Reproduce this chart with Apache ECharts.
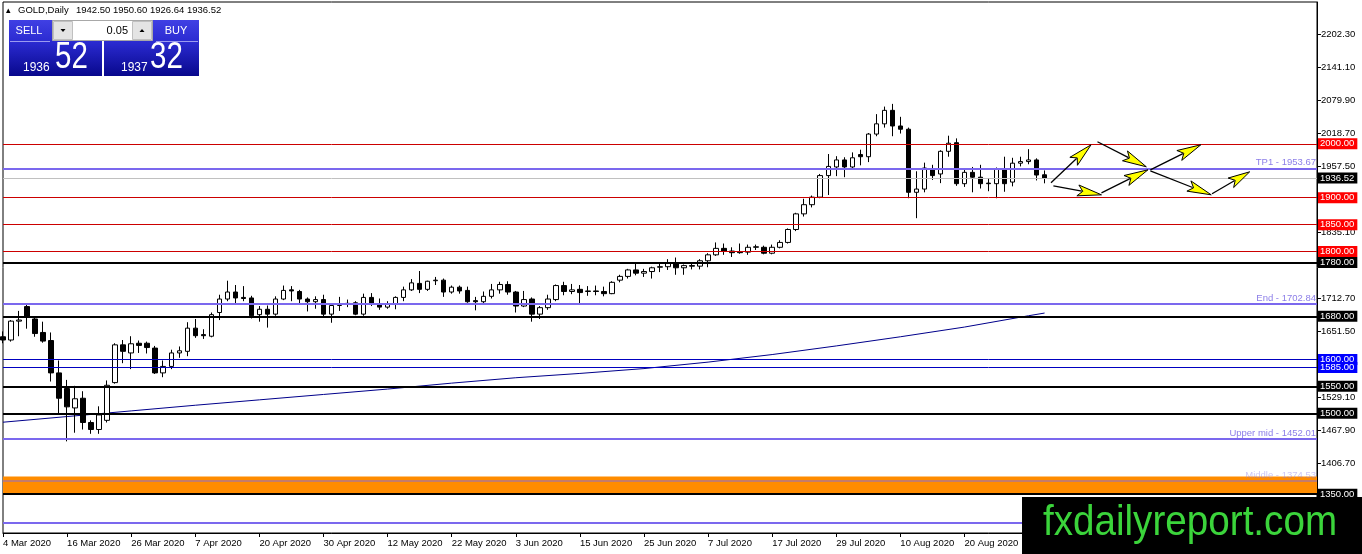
<!DOCTYPE html>
<html>
<head>
<meta charset="utf-8">
<title>GOLD, Daily</title>
<script src="https://cdn.jsdelivr.net/npm/echarts@6/dist/echarts.min.js"></script>
<style>
    html, body { margin: 0; padding: 0; background: #fff; }
    #chart { width: 1362px; height: 554px; }
</style>
</head>
<body>
<div id="chart"></div>
<script>
const opens = [
    1642, 1636, 1671, 1698, 1675, 1650, 1635, 1575, 1546, 1510, 1528, 1483, 1470, 1487, 1557, 1627, 1612, 1630, 1630, 1621,
    1575, 1587, 1612, 1615, 1658, 1646, 1643, 1687, 1712, 1725, 1715, 1714, 1683, 1693, 1684, 1712, 1729, 1726, 1712, 1707,
    1711, 1684, 1700, 1702, 1705, 1684, 1715, 1703, 1697, 1702, 1715, 1729, 1741, 1730, 1746, 1747, 1725, 1734, 1728, 1709,
    1707, 1717, 1729, 1739, 1725, 1699, 1712, 1684, 1696, 1711, 1737, 1726, 1730, 1726, 1727, 1726, 1722, 1747, 1754, 1766,
    1760, 1763, 1771, 1772, 1779, 1770, 1774, 1773, 1783, 1794, 1806, 1801, 1800, 1799, 1808, 1808, 1797, 1808, 1817, 1841,
    1870, 1887, 1901, 1941, 1957, 1970, 1957, 1980, 1976, 2018, 2037, 2062, 2033, 2027, 1910, 1916, 1954, 1944, 1986, 2002,
    1926, 1947, 1938, 1927, 1926, 1954, 1929, 1964, 1967, 1970, 1942.50
];
const highs = [
    1652, 1673, 1690, 1703, 1678, 1670, 1650, 1598, 1562, 1551, 1541, 1487, 1513, 1561, 1630, 1636, 1643, 1635, 1633, 1625,
    1598, 1618, 1624, 1669, 1675, 1656, 1687, 1720, 1746, 1738, 1736, 1718, 1699, 1700, 1717, 1737, 1736, 1729, 1715, 1717,
    1720, 1703, 1716, 1711, 1708, 1722, 1723, 1713, 1708, 1717, 1735, 1749, 1764, 1746, 1753, 1750, 1737, 1737, 1735, 1716,
    1726, 1740, 1744, 1745, 1727, 1727, 1715, 1699, 1720, 1739, 1744, 1740, 1738, 1736, 1737, 1735, 1745, 1757, 1768, 1778,
    1768, 1772, 1777, 1786, 1789, 1776, 1777, 1786, 1797, 1817, 1815, 1808, 1815, 1813, 1813, 1811, 1813, 1821, 1843, 1872,
    1898, 1904, 1944, 1981, 1977, 1975, 1984, 1989, 2020, 2055, 2069, 2074, 2050, 2030, 1949, 1965, 1961, 1988, 2015, 2010,
    1952, 1957, 1961, 1936, 1956, 1976, 1974, 1976, 1990, 1973, 1950.60
];
const lows = [
    1630, 1633, 1643, 1657, 1642, 1631, 1559, 1500, 1448, 1464, 1470, 1462, 1462, 1483, 1555, 1593, 1582, 1612, 1611, 1573,
    1567, 1582, 1603, 1606, 1640, 1638, 1641, 1673, 1708, 1703, 1708, 1676, 1670, 1659, 1681, 1710, 1708, 1702, 1689, 1694,
    1680, 1668, 1690, 1697, 1682, 1681, 1699, 1692, 1694, 1693, 1708, 1727, 1723, 1727, 1738, 1716, 1722, 1722, 1705, 1691,
    1701, 1713, 1722, 1720, 1687, 1697, 1670, 1675, 1692, 1708, 1719, 1721, 1704, 1718, 1719, 1717, 1721, 1743, 1750, 1756,
    1753, 1750, 1762, 1766, 1757, 1757, 1767, 1767, 1771, 1792, 1794, 1790, 1796, 1794, 1803, 1795, 1795, 1806, 1815, 1838,
    1865, 1882, 1899, 1905, 1940, 1938, 1955, 1960, 1966, 2014, 2030, 2014, 2019, 1899, 1862, 1910, 1933, 1927, 1976, 1922,
    1920, 1910, 1917, 1912, 1899, 1911, 1921, 1958, 1962, 1932, 1926.64
];
const closes = [
    1636, 1671, 1673, 1680, 1648, 1634, 1575, 1528, 1512, 1527, 1483, 1470, 1497, 1552, 1627, 1615, 1629, 1626, 1622, 1575,
    1587, 1612, 1616, 1658, 1644, 1644, 1683, 1712, 1725, 1714, 1713, 1681, 1693, 1684, 1712, 1728, 1727, 1712, 1707, 1711,
    1684, 1700, 1702, 1704, 1684, 1715, 1704, 1697, 1702, 1715, 1729, 1742, 1730, 1745, 1747, 1725, 1734, 1727, 1707, 1707,
    1717, 1729, 1739, 1725, 1699, 1711, 1684, 1696, 1712, 1737, 1726, 1729, 1724, 1727, 1726, 1722, 1743, 1754, 1766, 1760,
    1763, 1770, 1772, 1779, 1770, 1774, 1773, 1783, 1794, 1806, 1801, 1798, 1798, 1808, 1809, 1797, 1808, 1817, 1841, 1870,
    1887, 1901, 1941, 1958, 1970, 1957, 1974, 1976, 2018, 2037, 2062, 2033, 2027, 1910, 1916, 1955, 1941, 1986, 2001, 1926,
    1947, 1938, 1926, 1926, 1954, 1926, 1964, 1967, 1970, 1942, 1936.52
];

// Moyenne mobile (lue aux dates des graduations)
const maIndex = [0, 8, 16, 24, 32, 40, 48, 56, 64, 72, 80, 88, 96, 104, 112, 120, 128, 130];
const maValues = [1483.5, 1494, 1504.5, 1515, 1525, 1535, 1545, 1556, 1566, 1574, 1583, 1595, 1609, 1625, 1642, 1660, 1681, 1686];

// Niveaux horizontaux
const redLevels = [2000, 1900, 1850, 1800];
const blackLevels = [1780, 1680, 1550, 1500, 1350];
const blueLevels = [1600, 1585];
const fiboNames = ['TP1', 'End', 'Upper mid', 'Middle', 'Lower mid'];
const fiboValues = [1953.67, 1702.84, 1452.01, 1374.53, 1297.05];
const orangeZone = [1350, 1383];

// Flèches de scénario : [barre départ, prix départ, barre arrivée, prix arrivée]
const arrows = [
    [130.8, 1927.6, 135.8, 1998.1],
    [136.6, 2003.7, 142.7, 1957.3],
    [131.1, 1922.0, 137.1, 1905.3],
    [137.1, 1909.0, 142.9, 1951.7],
    [143.2, 1951.7, 149.5, 1998.1],
    [143.2, 1949.9, 150.8, 1905.3],
    [150.9, 1907.2, 155.6, 1948.0]
];

// Graduations
const yTicks = [1345.5, 1406.7, 1467.9, 1529.1, 1590.3, 1651.5, 1712.7, 1773.9, 1835.1, 1896.3,
    1957.5, 2018.7, 2079.9, 2141.1, 2202.3];
const dateTicks = ['4 Mar 2020', '16 Mar 2020', '26 Mar 2020', '7 Apr 2020', '20 Apr 2020', '30 Apr 2020',
    '12 May 2020', '22 May 2020', '3 Jun 2020', '15 Jun 2020', '25 Jun 2020', '7 Jul 2020',
    '17 Jul 2020', '29 Jul 2020', '10 Aug 2020', '20 Aug 2020'];

// Jours de cotation (sans week-ends ni Vendredi saint), avec l'espace vide à droite
const holidays = ['2020-04-10'];
const months = ['Jan', 'Feb', 'Mar', 'Apr', 'May', 'Jun', 'Jul', 'Aug', 'Sep', 'Oct', 'Nov', 'Dec'];
const barCount = 165;
const categories = [];
for (let d = new Date(Date.UTC(2020, 2, 4)); categories.length < barCount; d.setUTCDate(d.getUTCDate() + 1))
{
    const day = d.getUTCDay();
    if (day === 0 || day === 6) continue;
    if (holidays.includes(d.toISOString().slice(0, 10))) continue;
    categories.push(d.getUTCDate() + ' ' + months[d.getUTCMonth()] + ' ' + d.getUTCFullYear());
}

const FONT = '"Liberation Sans", Arial, sans-serif';
const last = closes.length - 1;

const candles = opens.map((o, i) => [o, closes[i], lows[i], highs[i]]);

function boxLine(value, lineColor, width, boxColor)
{
    return {
        yAxis: value,
        lineStyle: { color: lineColor, width: width, type: 'solid' },
        label: {
            show: true, position: 'end', distance: 1,
            formatter: value.toFixed(2),
            color: '#fff', backgroundColor: boxColor,
            padding: [1, 3, 0, 2], fontSize: 9.5, fontFamily: FONT
        }
    };
}

function fiboLine(name, value)
{
    const inZone = value > orangeZone[0] && value < orangeZone[1];
    return {
        yAxis: value,
        lineStyle: { color: '#7b68ee', width: 2, type: 'solid', opacity: inZone ? 0.45 : 1 },
        label: {
            show: true, position: 'insideEndTop', distance: 1,
            formatter: name + ' - ' + value.toFixed(2),
            color: '#8c7ee8', fontSize: 9.5, fontFamily: FONT
        }
    };
}

const levelLines = [];
redLevels.forEach(v => levelLines.push(boxLine(v, '#cc0000', 1, '#ff0000')));
blueLevels.forEach(v => levelLines.push(boxLine(v, '#0000c0', 1, '#0000ff')));
blackLevels.forEach(v => levelLines.push(boxLine(v, '#000000', 2, '#000000')));
fiboNames.forEach((n, i) => levelLines.push(fiboLine(n, fiboValues[i])));
levelLines.push(boxLine(closes[last], '#c0c0c0', 1, '#000000'));

function renderArrow(params, api)
{
    const p1 = api.coord([api.value(0), api.value(1)]);
    const p2 = api.coord([api.value(2), api.value(3)]);
    const dx = p2[0] - p1[0];
    const dy = p2[1] - p1[1];
    const len = Math.sqrt(dx * dx + dy * dy);
    const ux = dx / len;
    const uy = dy / len;
    const headLen = Math.min(24, len * 0.5);
    const half = 5.5;
    const bx = p2[0] - ux * headLen;
    const by = p2[1] - uy * headLen;
    return {
        type: 'group',
        children: [
            {
                type: 'line',
                shape: { x1: p1[0], y1: p1[1], x2: bx + ux * 4, y2: by + uy * 4 },
                style: { stroke: '#000', lineWidth: 1.3 }
            },
            {
                type: 'polygon',
                shape: {
                    points: [
                        [p2[0], p2[1]],
                        [bx - uy * half, by + ux * half],
                        [bx + ux * 5, by + uy * 5],
                        [bx + uy * half, by - ux * half]
                    ]
                },
                style: { fill: '#ffff00', stroke: '#000', lineWidth: 1 }
            }
        ]
    };
}

const panelGradient = () => new echarts.graphic.LinearGradient(0, 0, 0, 1, [
    { offset: 0, color: '#4040e4' },
    { offset: 0.4, color: '#2a2ad0' },
    { offset: 1, color: '#08088c' }
]);

function txt(x, y, text, size, color, align, extra)
{
    return Object.assign({
        type: 'text', x: x, y: y, z: 100,
        style: {
            text: text, fontSize: size, fontFamily: FONT, fill: color,
            align: align, textAlign: align, verticalAlign: 'middle', textVerticalAlign: 'middle'
        }
    }, extra || {});
}

const header = opens[last].toFixed(2) + ' ' + highs[last].toFixed(2) + ' ' +
    lows[last].toFixed(2) + ' ' + closes[last].toFixed(2);
const bid = closes[last].toFixed(2).split('.');
const ask = (closes[last] + 0.8).toFixed(2).split('.');

const graphics = [
    { type: 'polygon', z: 100, shape: { points: [[6, 13], [10.5, 13], [8.25, 8.5]] }, style: { fill: '#000' } },
    txt(18, 10.5, 'GOLD,Daily', 9.5, '#000', 'left'),
    txt(76, 10.5, header, 9.5, '#000', 'left'),

    { type: 'rect', z: 100, shape: { x: 9, y: 20, width: 93, height: 56 }, style: { fill: panelGradient() } },
    { type: 'rect', z: 100, shape: { x: 104, y: 20, width: 95, height: 56 }, style: { fill: panelGradient() } },
    { type: 'line', z: 101, shape: { x1: 10, y1: 41.5, x2: 50, y2: 41.5 }, style: { stroke: '#9a9af0', lineWidth: 1 } },
    { type: 'line', z: 101, shape: { x1: 156, y1: 41.5, x2: 198, y2: 41.5 }, style: { stroke: '#9a9af0', lineWidth: 1 } },
    { type: 'rect', z: 101, shape: { x: 52.5, y: 20.5, width: 100, height: 20 }, style: { fill: '#fff', stroke: '#a8a8a8', lineWidth: 1 } },
    { type: 'rect', z: 102, shape: { x: 53.5, y: 21.5, width: 19, height: 18 }, style: { fill: '#e4e4e4', stroke: '#c0c0c0', lineWidth: 1 } },
    { type: 'rect', z: 102, shape: { x: 132.5, y: 21.5, width: 19, height: 18 }, style: { fill: '#e4e4e4', stroke: '#c0c0c0', lineWidth: 1 } },
    { type: 'polygon', z: 103, shape: { points: [[60.5, 29], [65.5, 29], [63, 32]] }, style: { fill: '#000' } },
    { type: 'polygon', z: 103, shape: { points: [[139.5, 32], [144.5, 32], [142, 29]] }, style: { fill: '#000' } },
    txt(128, 30.5, '0.05', 11, '#000', 'right', { z: 103 }),
    txt(29, 30.5, 'SELL', 11, '#fff', 'center', { z: 103 }),
    txt(176, 30.5, 'BUY', 11, '#fff', 'center', { z: 103 }),
    txt(23, 67, bid[0].slice(0, 4), 13, '#fff', 'left', { z: 103, scaleX: 0.92 }),
    txt(55, 58.5, bid[0].slice(4) + bid[1], 36, '#fff', 'left', { z: 103, scaleX: 0.82 }),
    txt(121, 67, ask[0].slice(0, 4), 13, '#fff', 'left', { z: 103, scaleX: 0.92 }),
    txt(150, 58.5, ask[0].slice(4) + ask[1], 36, '#fff', 'left', { z: 103, scaleX: 0.82 }),

    { type: 'rect', z: 110, shape: { x: 1022, y: 497, width: 340, height: 57 }, style: { fill: '#000' } },
    txt(1190, 523, 'fxdailyreport.com', 42, '#3bd43b', 'center', { z: 111, scaleX: 0.92 })
];

const isDateTick = (index, value) => dateTicks.includes(value);

const option = {
    animation: false,
    backgroundColor: '#fff',
    grid: { left: 2, right: 45, top: 2, bottom: 21, show: true, borderColor: '#000', borderWidth: 1, backgroundColor: '#fff' },
    xAxis: [
        {
            type: 'category', data: categories, boundaryGap: false,
            axisLine: { onZero: false, lineStyle: { color: '#000', width: 1 } },
            axisTick: { interval: isDateTick, length: 4, lineStyle: { color: '#000' } },
            axisLabel: { interval: isDateTick, align: 'left', margin: 5, color: '#000', fontSize: 9.5, fontFamily: FONT },
            splitLine: { show: false }
        },
        { type: 'value', min: 0, max: barCount - 1, show: false, axisLine: { onZero: false } }
    ],
    yAxis: {
        type: 'value', position: 'right', min: 1278, max: 2263,
        axisLine: { show: true, onZero: false, lineStyle: { color: '#000' } },
        axisTick: { show: true, length: 4, customValues: yTicks, lineStyle: { color: '#000' } },
        axisLabel: { customValues: yTicks, formatter: v => v.toFixed(2), color: '#000', fontSize: 9.5, fontFamily: FONT, margin: 4 },
        splitLine: { show: false }
    },
    series: [
        {
            type: 'line', xAxisIndex: 1, z: 1, silent: true,
            data: maIndex.map((i, k) => [i, maValues[k]]),
            symbol: 'none',
            lineStyle: { color: '#00008b', width: 1 },
            markArea: {
                silent: true,
                itemStyle: { color: '#ff8c00' },
                data: [[{ yAxis: orangeZone[0] }, { yAxis: orangeZone[1] }]]
            }
        },
        {
            type: 'candlestick', xAxisIndex: 0, z: 2, silent: true,
            data: candles,
            barWidth: 5,
            itemStyle: { color: '#ffffff', color0: '#000000', borderColor: '#000000', borderColor0: '#000000', borderWidth: 1 },
            markLine: { silent: true, symbol: ['none', 'none'], animation: false, data: levelLines }
        },
        {
            type: 'custom', xAxisIndex: 1, z: 5, silent: true,
            renderItem: renderArrow,
            encode: { x: [0, 2], y: [1, 3] },
            data: arrows
        }
    ],
    graphic: graphics
};

const chart = echarts.init(document.getElementById('chart'));
chart.setOption(option);
</script>
</body>
</html>
